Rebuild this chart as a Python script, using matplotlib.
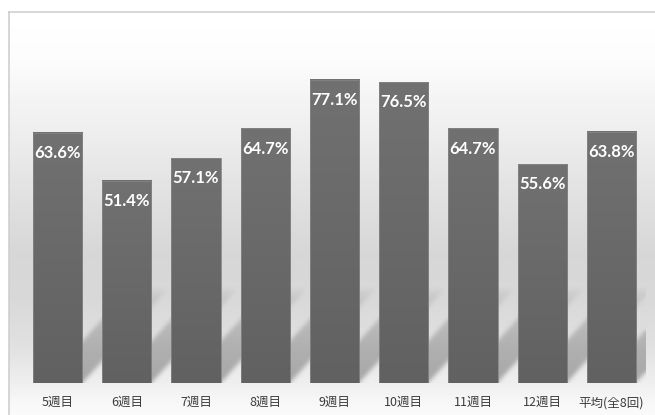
import numpy as np
import matplotlib
matplotlib.use("Agg")
import matplotlib.pyplot as plt
from matplotlib.colors import LinearSegmentedColormap

# 週ごとの値 (%)
weeks = ["5週目", "6週目", "7週目", "8週目", "9週目", "10週目", "11週目", "12週目", "平均(全8回)"]
rates = [63.6, 51.4, 57.1, 64.7, 77.1, 76.5, 64.7, 55.6, 63.8]

W, H = 655, 415
fig = plt.figure(figsize=(W / 100, H / 100), dpi=100)
fig.patch.set_facecolor("white")

# 背景 (グラフエリア全体の縦グラデーション)
bg = fig.add_axes([9 / W, 0, 1 - 9 / W, (H - 12) / H])
bg.set_xlim(0, 1)
bg.set_ylim(H, 12)
stops_px = [12, 60, 130, 200, 255, 300, 345, 383, 400, 415]
stops_gray = [255, 252, 238, 224, 214, 216, 224, 238, 246, 250]
py = np.arange(12, H + 1)
gray = np.interp(py, stops_px, stops_gray) / 255.0
bg.imshow(np.repeat(gray[:, None], 40, axis=1), cmap="gray", vmin=0, vmax=1,
          extent=[0, 1, H, 12], aspect="auto", interpolation="nearest")
bg.set_axis_off()
bg.plot([0, 0], [12, H], color="#cfcfcf", lw=1.2, clip_on=False)
bg.plot([0, 1], [12, 12], color="#cfcfcf", lw=1.2, clip_on=False)

# 棒グラフ本体
ax = fig.add_axes([23 / W, (H - 383) / H, 623 / W, 371 / H])
ax.patch.set_alpha(0)
x = np.arange(len(weeks))
bw = 0.71
bars = ax.bar(x, rates, width=bw, facecolor="none", edgecolor="#858585",
              linewidth=0.6, zorder=4)

# 棒の影 (右上に伸びる斜めの影をぼかして描く)
gx = np.linspace(-0.5, len(weeks) - 0.5, 1100)
gy = np.linspace(0, 28, 360)
XX, YY = np.meshgrid(gx, gy)
shade = np.zeros_like(XX)
shear, sw, sh_top, a0 = 0.052, 0.55, 24.0, 0.55
for b in bars:
    xr = b.get_x() + b.get_width()
    left = xr - sw + shear * YY
    inside = (XX >= left) & (XX <= left + sw)
    fade = np.clip(1 - YY / sh_top, 0, 1) ** 0.6
    shade = np.maximum(shade, inside * fade * a0)

def blur(a, sig, axis):
    r = int(3 * sig)
    k = np.exp(-0.5 * (np.arange(-r, r + 1) / sig) ** 2)
    k /= k.sum()
    return np.apply_along_axis(lambda v: np.convolve(np.pad(v, r, mode="edge"), k, mode="valid"), axis, a)

shade = blur(blur(shade, 4.0, 1), 6.0, 0)
rgba = np.zeros(shade.shape + (4,))
rgba[..., :3] = 0.42
rgba[..., 3] = shade
ax.imshow(rgba, extent=[gx[0], gx[-1], gy[0], gy[-1]], origin="lower",
          aspect="auto", interpolation="bilinear", zorder=1)

# 棒の塗り (上から下へ少し暗くなるグラデーション)
bar_cmap = LinearSegmentedColormap.from_list("bar", ["#616161", "#717171"])
grad = np.linspace(0, 1, 256)[:, None]
for b in bars:
    x0, w, h = b.get_x(), b.get_width(), b.get_height()
    ax.imshow(grad, cmap=bar_cmap, extent=[x0, x0 + w, 0, h], origin="lower",
              aspect="auto", interpolation="bilinear", zorder=3)
ax.set_xlim(-0.5, len(weeks) - 0.5)
ax.set_ylim(0, 94.3)

# 値ラベル
for xi, v in zip(x, rates):
    ax.annotate(f"{v:.1f}%", (xi, v), xytext=(0, -14.5), textcoords="offset points",
                ha="center", va="center", color="white", fontsize=12,
                fontweight="bold", family=["Lato", "DejaVu Sans"], zorder=5)

ax.set_xticks(x)
ax.set_xticklabels(weeks, fontsize=9, color="#3c3c3c",
                   family=["Noto Sans CJK JP", "DejaVu Sans"])
ax.tick_params(axis="x", length=0, pad=9.5)
ax.set_yticks([])
for s in ax.spines.values():
    s.set_visible(False)

fig.savefig("out.png", dpi=100)
